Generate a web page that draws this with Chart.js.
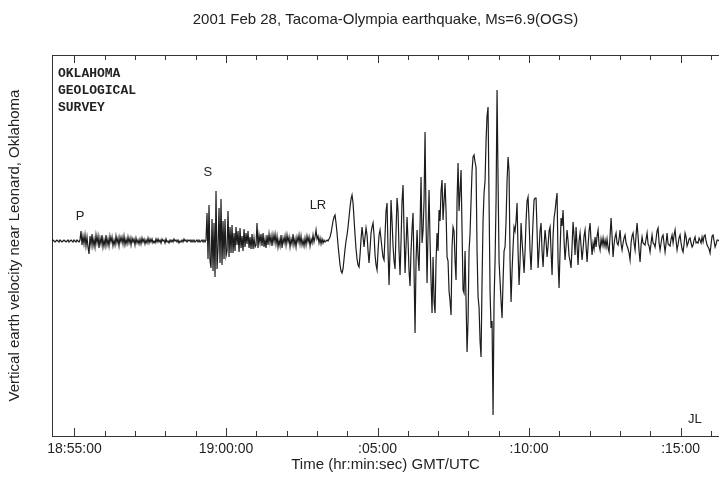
<!DOCTYPE html>
<html><head><meta charset="utf-8">
<script src="https://cdn.jsdelivr.net/npm/chart.js@4.4.0/dist/chart.umd.min.js"></script>
<style>html,body{margin:0;padding:0;background:#fff;overflow:hidden}</style>
</head><body>
<canvas id="c" width="719" height="479" style="width:719px;height:479px;display:block"></canvas>
<script>
// ---- data ----
const chartTitle = '2001 Feb 28, Tacoma-Olympia earthquake, Ms=6.9(OGS)';
const xAxisTitle = 'Time (hr:min:sec) GMT/UTC';
const yAxisTitle = 'Vertical earth velocity near Leonard, Oklahoma';
// time in seconds relative to 18:55:00 GMT
const startSec = -44.5;
const sampleSec = 1.98;
const timeMin = -44.5;
const timeMax = 1276;
const minorTickSec = 60;
const velMin = -195;
const velMax = 186;
const tickLabelSec = [0, 300, 600, 900, 1200];
const tickLabels = ['18:55:00', '19:00:00', ':05:00', ':10:00', ':15:00'];
const velocity = [
0,1,0,-1,0,1,0,-1,1,0,-1,0,1,0,-1,0,1,-1,0,1,
0,-1,1,0,-1,1,0,-1,1,10,-4,5,-3,6,-5,4,-6,-13,5,-4,
7,-5,2,-6,6,-2,5,-7,3,-3,6,-6,1,-5,6,-4,2,-5,5,-1,
4,-5,1,-4,5,-2,3,-5,4,-1,4,-3,5,-4,2,-3,4,-2,3,-4,
3,-1,2,-4,3,-2,1,-3,2,-3,3,-1,2,-3,1,-2,3,-2,2,-1,
2,-2,0,-2,2,-1,2,-1,1,-2,2,0,1,-2,2,-1,0,-2,1,-1,
1,-1,2,0,1,-1,1,-2,0,-1,1,-1,2,0,1,-1,1,0,1,-1,
1,-1,1,-1,0,1,-1,1,-1,0,1,-1,1,-1,1,28,-18,36,-20,-27,
22,-30,18,-36,50,-28,-8,33,-22,42,-24,20,-18,22,-15,-10,30,-16,14,-12,
16,-12,8,-10,14,-4,10,-11,13,-7,5,-10,12,-6,8,-3,10,-7,4,-8,
7,-8,3,-6,-4,18,-7,6,-2,7,-5,8,-6,2,-7,6,-4,7,-2,5,
-5,6,-1,7,-3,5,-6,1,-5,6,-7,3,-2,5,-4,6,-1,4,-6,2,
-3,7,-4,2,-6,4,-1,6,-3,5,-4,1,-5,3,-4,5,-1,4,-5,2,
-2,6,-1,4,11,2,5,-2,3,-3,2,-2,1,-1,0,1,0,2,4,8,
14,20,24,26,18,8,-4,-14,-24,-30,-32,-28,-18,-8,0,6,14,24,34,42,
46,38,22,6,-8,-18,-24,-26,-14,2,14,4,-6,4,13,6,-10,-22,-8,8,
14,18,6,-14,-24,-29,-10,6,11,2,-8,-16,-19,6,30,38,-10,-44,-10,41,
20,-5,-20,-28,10,43,30,-10,-34,0,40,56,10,-32,-5,24,0,-30,-45,-10,
12,28,-30,-92,-20,11,-15,-30,15,64,-2,10,40,109,20,-42,10,51,0,-40,
-72,-16,-60,-72,-20,8,-10,31,20,50,61,21,40,58,30,-16,-20,-50,-60,-74,
-6,14,10,-20,-39,40,78,30,50,71,10,-49,-52,-10,-60,-111,-80,-10,8,40,
70,84,86,79,74,-10,-56,-66,-100,-116,-40,20,48,60,100,125,134,40,-50,-87,
-80,-174,-60,-20,40,151,60,-20,-40,-60,-77,-40,-10,-6,20,60,84,70,-20,-61,
-30,-6,14,10,20,38,-10,-44,-20,18,0,-15,-32,-10,20,40,44,20,-10,-29,
-5,20,41,43,43,10,-27,-10,10,18,-10,-26,-5,11,0,-16,-5,10,14,-10,
-34,5,23,30,40,48,-20,-47,-10,23,15,31,0,-19,-5,11,0,-15,-20,-27,
-5,19,5,-14,14,-5,-24,0,8,-5,-19,-8,5,11,-5,-21,-5,10,18,0,
-14,-2,-8,4,-6,5,11,-4,-9,2,-4,3,-5,1,-6,2,-7,-11,5,23,
5,-16,-3,4,8,-2,-4,2,11,-3,-9,-2,3,6,-2,-5,-8,-12,-19,-2,
5,8,-2,-9,6,18,5,-10,-21,-4,4,-2,-3,-4,2,8,-3,-5,-11,-2,
6,-2,-3,-6,2,10,13,-2,-9,-2,4,6,-3,-11,-2,8,-3,-4,-5,2,
6,-2,6,11,0,-9,-3,3,6,-2,-8,-11,-3,8,4,-5,-2,2,3,-2,
-6,-4,1,4,-2,-1,-2,3,1,-2,4,-1,5,6,0,-4,-6,-8,-12,-3,
5,6,0,-6,-3,1,1,0
];
const phaseNames = ['P', 'S', 'LR', 'JL'];
const phaseTimes = [11, 264, 482, 1228];
const phaseLevels = [25, 69, 36, -178];
const agencyLines = ['OKLAHOMA', 'GEOLOGICAL', 'SURVEY'];

// ---- chart ----
const points = velocity.map((v, i) => ({ x: startSec + i * sampleSec, y: v }));
const ink = '#1c1c1c';
const sans = "'Liberation Sans', Arial, sans-serif";

function minuteTicks(scale) {
  const out = [];
  for (let v = Math.ceil(scale.min / minorTickSec) * minorTickSec; v <= scale.max; v += minorTickSec) out.push({ value: v });
  scale.ticks = out;
}

const decorPlugin = {
  id: 'decor',
  afterDraw(chart) {
    const ctx = chart.ctx;
    const xs = chart.scales.x, ys = chart.scales.y;
    const area = chart.chartArea;
    ctx.save();
    ctx.strokeStyle = '#333';
    ctx.lineWidth = 1;
    ctx.beginPath();
    xs.ticks.forEach(t => {
      const px = Math.round(xs.getPixelForValue(t.value)) + 0.5;
      const major = tickLabelSec.indexOf(t.value) >= 0;
      const len = major ? 8 : 5;
      ctx.moveTo(px, area.bottom); ctx.lineTo(px, area.bottom - len);
      ctx.moveTo(px, area.top); ctx.lineTo(px, area.top + len);
    });
    ctx.stroke();
    ctx.fillStyle = '#222';
    ctx.font = '13px ' + sans;
    ctx.textAlign = 'center';
    ctx.textBaseline = 'middle';
    phaseNames.forEach((n, i) => {
      ctx.fillText(n, xs.getPixelForValue(phaseTimes[i]), ys.getPixelForValue(phaseLevels[i]));
    });
    ctx.font = "bold 13px 'Liberation Mono', 'DejaVu Sans Mono', monospace";
    ctx.textAlign = 'left';
    agencyLines.forEach((s, k) => {
      ctx.fillText(s, area.left + 6, area.top + 19 + 17 * k);
    });
    ctx.restore();
  }
};

new Chart(document.getElementById('c'), {
  type: 'line',
  data: {
    datasets: [{
      data: points,
      borderColor: ink,
      borderWidth: 1.2,
      pointRadius: 0,
      tension: 0,
      fill: false
    }]
  },
  options: {
    responsive: false,
    animation: false,
    parsing: false,
    layout: { padding: { right: -5 } },
    plugins: { legend: { display: false }, title: { display: false }, tooltip: { enabled: false } },
    scales: {
      x: {
        type: 'linear', position: 'bottom', min: timeMin, max: timeMax,
        afterBuildTicks: minuteTicks,
        grid: { display: false, drawTicks: false },
        border: { display: true, color: '#333', width: 1 },
        ticks: {
          autoSkip: false, maxRotation: 0, padding: 5,
          color: '#222', font: { family: sans, size: 14 },
          callback: v => { const k = tickLabelSec.indexOf(v); return k >= 0 ? tickLabels[k] : ''; }
        },
        title: { display: true, text: xAxisTitle, color: '#222', font: { family: sans, size: 15 }, padding: { top: 5, bottom: 5 } },
        afterFit: s => { s.height = 43; }
      },
      xTop: {
        type: 'linear', position: 'top', min: timeMin, max: timeMax,
        grid: { display: false, drawTicks: false },
        border: { display: true, color: '#333', width: 1 },
        ticks: { display: false },
        title: { display: true, text: chartTitle, color: '#222', font: { family: sans, size: 15 }, padding: { top: 11, bottom: 7 } },
        afterFit: s => { s.height = 55; }
      },
      y: {
        type: 'linear', position: 'left', min: velMin, max: velMax,
        grid: { display: false, drawTicks: false },
        border: { display: true, color: '#333', width: 1 },
        ticks: { display: false },
        title: { display: true, text: yAxisTitle, color: '#222', font: { family: sans, size: 15 }, padding: { top: 6, bottom: 6 } },
        afterFit: s => { s.width = 52; }
      }
    }
  },
  plugins: [decorPlugin]
});
</script>
</body></html>
